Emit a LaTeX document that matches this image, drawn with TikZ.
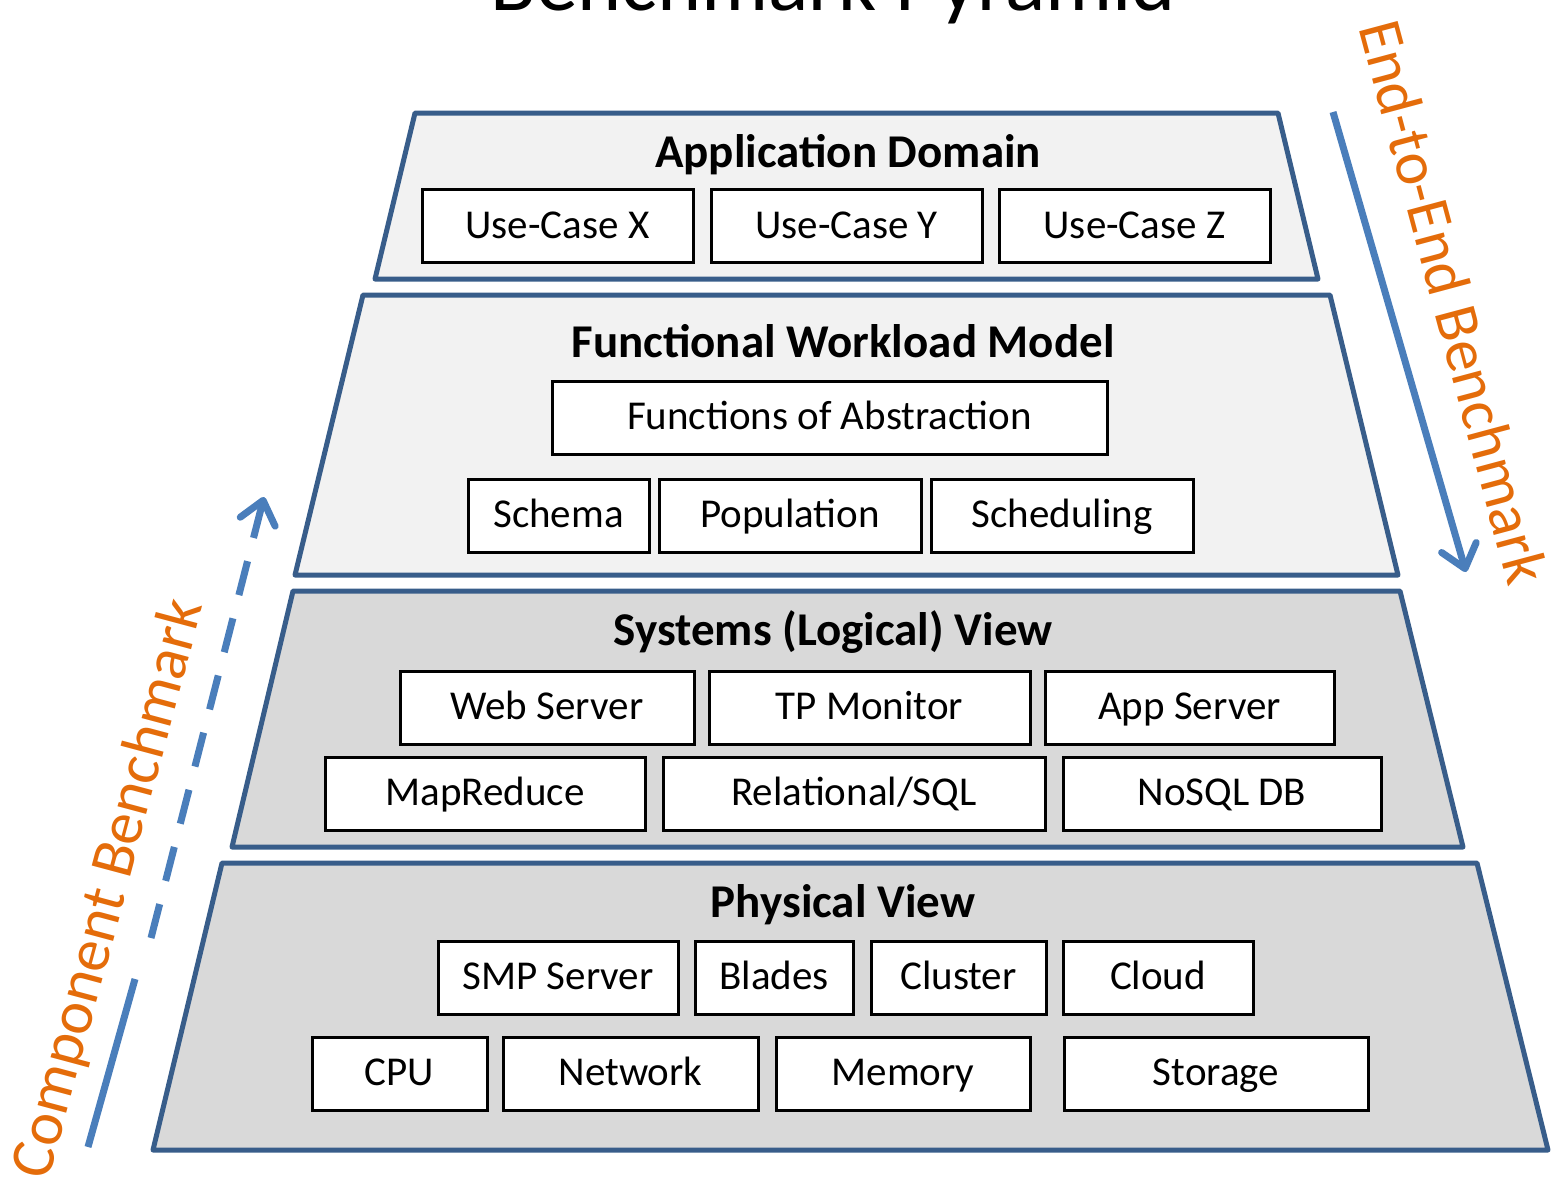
\documentclass[tikz,border=0pt]{standalone}
\usepackage{fontspec}
\setmainfont{Carlito}
\usetikzlibrary{arrows.meta}
\definecolor{edgeBlue}{HTML}{385D8A}
\definecolor{arrowBlue}{HTML}{4A7EBB}
\definecolor{mOrange}{HTML}{E46C0A}
\definecolor{lightFill}{HTML}{F2F2F2}
\definecolor{darkFill}{HTML}{D9D9D9}

\begin{document}
\begin{tikzpicture}[x=1pt, y=-1pt,
    layer/.style={draw=edgeBlue, line width=5pt, line join=round},
    unit/.style={draw=black, line width=3pt, fill=white, minimum height=73pt, inner sep=0pt,
      text height=34pt, text depth=10pt, font=\fontsize{41}{49}\selectfont},
    heading/.style={anchor=base, font=\fontsize{47}{56}\selectfont\bfseries},
    flow/.style={arrowBlue, line width=7pt},
    side/.style={text=mOrange, font=\fontsize{62}{74}\selectfont}]
    \useasboundingbox (0,0) rectangle (1551,1183);

    \node[anchor=base, font=\fontsize{84}{100}\selectfont] (title) at (833,10) {Benchmark Pyramid};

    % the four layers, top to bottom
    \draw[layer, fill=lightFill] (415,113) -- (1278,113) -- (1318,279) -- (375,279) -- cycle;
    \draw[layer, fill=lightFill] (363,295) -- (1330,295) -- (1398,575) -- (295,575) -- cycle;
    \draw[layer, fill=darkFill] (293,591) -- (1400,591) -- (1463,847) -- (232,847) -- cycle;
    \draw[layer, fill=darkFill] (222,863) -- (1477,863) -- (1548,1150) -- (153,1150) -- cycle;

    % application domain
    \node[heading] (app) at (848,167) {Application Domain};
    \node[unit, minimum width=271pt] (ucx) at (557.5,226) {Use-Case X};
    \node[unit, minimum width=271pt] (ucy) at (846.5,226) {Use-Case Y};
    \node[unit, minimum width=271pt] (ucz) at (1134.5,226) {Use-Case Z};

    % functional workload model
    \node[heading] (fwm) at (843,357) {Functional Workload Model};
    \node[unit, minimum width=555pt] (foa) at (829.5,417.5) {Functions of Abstraction};
    \node[unit, minimum width=181pt] (schema) at (558.5,515.5) {Schema};
    \node[unit, minimum width=262pt] (popul) at (790,515.5) {Population};
    \node[unit, minimum width=262pt] (sched) at (1062,515.5) {Scheduling};

    % systems view
    \node[heading] (sys) at (833,645) {Systems (Logical) View};
    \node[unit, minimum width=294pt] (web) at (547,707.5) {Web Server};
    \node[unit, minimum width=321pt] (tpm) at (869.5,707.5) {TP Monitor};
    \node[unit, minimum width=289pt] (appsrv) at (1189.5,707.5) {App Server};
    \node[unit, minimum width=320pt] (mapred) at (485,793.5) {MapReduce};
    \node[unit, minimum width=382pt] (rel) at (854,793.5) {Relational/SQL};
    \node[unit, minimum width=318pt] (nosql) at (1222,793.5) {NoSQL DB};

    % physical view
    \node[heading] (phys) at (843,917) {Physical View};
    \node[unit, minimum width=240pt] (smp) at (558,977.5) {SMP Server};
    \node[unit, minimum width=158pt] (blades) at (774,977.5) {Blades};
    \node[unit, minimum width=175pt] (cluster) at (958.5,977.5) {Cluster};
    \node[unit, minimum width=190pt] (cloud) at (1158,977.5) {Cloud};
    \node[unit, minimum width=175pt] (cpu) at (399.5,1073.5) {CPU};
    \node[unit, minimum width=255pt] (net) at (630.5,1073.5) {Network};
    \node[unit, minimum width=254pt] (mem) at (903,1073.5) {Memory};
    \node[unit, minimum width=304pt] (store) at (1216,1073.5) {Storage};

    % benchmark directions
    \coordinate (e2eTop) at (1333,112);
    \coordinate (e2eTip) at (1466,572);
    \coordinate (compLow) at (88,1147);
    \coordinate (compMid) at (135,979);
    \coordinate (compDash) at (151,938);
    \coordinate (compTip) at (264,497);
    \draw[flow, -{Straight Barb[round, length=22pt, width=36pt]}] (e2eTop) -- (e2eTip);
    \draw[flow] (compLow) -- (compMid);
    \draw[flow, dash pattern=on 35pt off 24pt, -{Straight Barb[round, length=22pt, width=36pt]}] (compDash) -- (compTip);
    \node[side, rotate=-75] (e2e) at (1454,302) {End-to-End Benchmark};
    \node[side, rotate=75] (comp) at (110,889) {Component Benchmark};
\end{tikzpicture}
\end{document}
